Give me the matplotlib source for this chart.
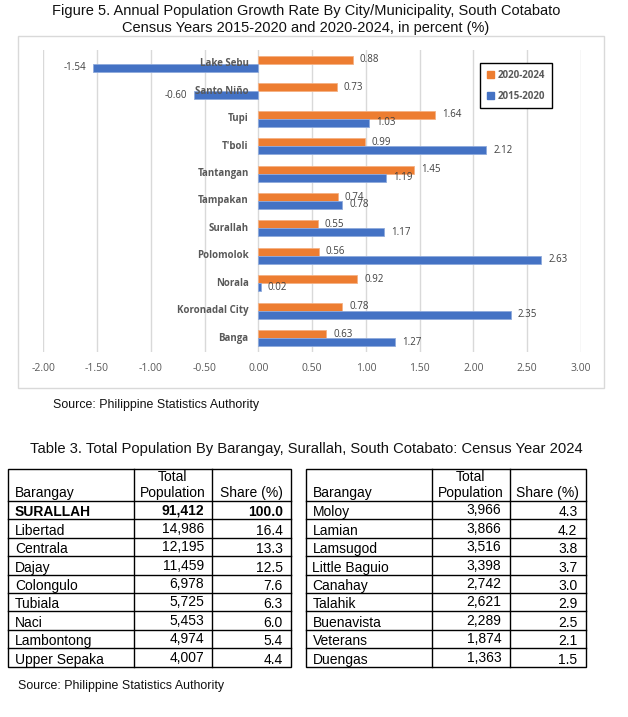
import matplotlib
matplotlib.use("Agg")
import matplotlib.pyplot as plt
from matplotlib.patches import Rectangle, Patch

plt.rcParams["font.family"] = ["Liberation Sans", "DejaVu Sans"]

# chart data (top to bottom)
cities = ["Lake Sebu", "Santo Niño", "Tupi", "T'boli", "Tantangan", "Tampakan",
          "Surallah", "Polomolok", "Norala", "Koronadal City", "Banga"]
rate_2020_2024 = [0.88, 0.73, 1.64, 0.99, 1.45, 0.74, 0.55, 0.56, 0.92, 0.78, 0.63]
rate_2015_2020 = [-1.54, -0.60, 1.03, 2.12, 1.19, 0.78, 1.17, 2.63, 0.02, 2.35, 1.27]
x_ticks = [-2.0, -1.5, -1.0, -0.5, 0.0, 0.5, 1.0, 1.5, 2.0, 2.5, 3.0]

# table data
left_names = ["SURALLAH", "Libertad", "Centrala", "Dajay", "Colongulo", "Tubiala",
              "Naci", "Lambontong", "Upper Sepaka"]
left_pop = [91412, 14986, 12195, 11459, 6978, 5725, 5453, 4974, 4007]
left_share = [100.0, 16.4, 13.3, 12.5, 7.6, 6.3, 6.0, 5.4, 4.4]
right_names = ["Moloy", "Lamian", "Lamsugod", "Little Baguio", "Canahay", "Talahik",
               "Buenavista", "Veterans", "Duengas"]
right_pop = [3966, 3866, 3516, 3398, 2742, 2621, 2289, 1874, 1363]
right_share = [4.3, 4.2, 3.8, 3.7, 3.0, 2.9, 2.5, 2.1, 1.5]

ORANGE = "#ED7D31"
BLUE = "#4472C4"
GREY_TXT = "#595959"
LBL_TXT = "#404040"
CHART_FONT = ["Open Sans", "DejaVu Sans"]

W, H = 628, 717
fig = plt.figure(figsize=(W / 100, H / 100), dpi=100)

# overlay axes in pixel coordinates for frame, titles and tables
ov = fig.add_axes([0, 0, 1, 1], zorder=0)
ov.set_xlim(0, W)
ov.set_ylim(H, 0)
ov.axis("off")

ov.add_patch(Rectangle((18, 36), 586, 352, fill=False, edgecolor="#D9D9D9", lw=1))
ov.text(306, 14.5, "Figure 5. Annual Population Growth Rate By City/Municipality, South Cotabato",
        ha="center", va="baseline", fontsize=10.5, color="#111111")
ov.text(306, 32, "Census Years 2015-2020 and 2020-2024, in percent (%)",
        ha="center", va="baseline", fontsize=10.5, color="#111111")
ov.text(53, 408, "Source: Philippine Statistics Authority", ha="left", va="baseline",
        fontsize=8.9, color="#111111")
ov.text(306, 452.5, "Table 3. Total Population By Barangay, Surallah, South Cotabato: Census Year 2024",
        ha="center", va="baseline", fontsize=10.6, color="#111111")
ov.text(18, 689, "Source: Philippine Statistics Authority", ha="left", va="baseline",
        fontsize=8.9, color="#111111")

# bar chart
ax = fig.add_axes([43.3 / W, 1 - 352 / H, (581 - 43.3) / W, 302 / H], zorder=1)
ax.patch.set_alpha(0)
ypos = list(range(len(cities)))
bh = 0.29
ax.barh([y - bh / 2 for y in ypos], rate_2020_2024, height=bh, color=ORANGE,
        edgecolor="#F4B183", lw=0.6, zorder=3)
ax.barh([y + bh / 2 for y in ypos], rate_2015_2020, height=bh, color=BLUE,
        edgecolor="#8FAADC", lw=0.6, zorder=3)
ax.set_xlim(-2, 3)
ax.set_ylim(len(cities) - 0.5, -0.5)
ax.set_xticks(x_ticks)
ax.set_xticklabels([f"{t:.2f}" for t in x_ticks], fontsize=7.5, color=GREY_TXT,
                   family=CHART_FONT)
ax.tick_params(axis="x", length=0, pad=8)
ax.set_yticks([])
ax.grid(axis="x", color="#D9D9D9", lw=1, zorder=0)
for s in ax.spines.values():
    s.set_visible(False)

for y, name in zip(ypos, cities):
    ax.annotate(name, (0, y), xytext=(-7, 0), textcoords="offset points",
                ha="right", va="center", fontsize=7, fontweight="bold",
                color=GREY_TXT, family=CHART_FONT, zorder=4)

for vals, off in ((rate_2020_2024, -bh / 2), (rate_2015_2020, bh / 2)):
    for y, v in zip(ypos, vals):
        ax.annotate(f"{v:.2f}", (v, y + off), xytext=(5 if v >= 0 else -5, 0),
                    textcoords="offset points", ha="left" if v >= 0 else "right",
                    va="center", fontsize=7, color=LBL_TXT,
                    family=CHART_FONT, zorder=4)

handles = [Patch(color=ORANGE, label="2020-2024"), Patch(color=BLUE, label="2015-2020")]
leg = fig.legend(handles=handles, loc="upper left", bbox_to_anchor=(480 / W, 1 - 63 / H),
                 frameon=True, fancybox=False, edgecolor="black", framealpha=1,
                 handlelength=0.7, handleheight=0.7, handletextpad=0.4,
                 labelspacing=1.0, borderpad=0.7, borderaxespad=0,
                 prop={"size": 7, "weight": "bold", "family": CHART_FONT})
for t in leg.get_texts():
    t.set_color(GREY_TXT)
leg.get_frame().set_linewidth(1)


def draw_table(x0, x1, x2, x3, names, pops, shares):
    top, head_h, row_h = 469, 32, 18.4
    bottom = top + head_h + row_h * len(names)
    ov.add_patch(Rectangle((x0, top), x3 - x0, bottom - top, fill=False,
                           edgecolor="black", lw=1))
    for xv in (x1, x2):
        ov.plot([xv, xv], [top, bottom], color="black", lw=1)
    for i in range(len(names)):
        yv = top + head_h + row_h * i
        ov.plot([x0, x3], [yv, yv], color="black", lw=1)
    fs = 10
    ov.text(x0 + 7, top + head_h - 4, "Barangay", ha="left", va="baseline", fontsize=fs)
    ov.text((x1 + x2) / 2, top + 12, "Total", ha="center", va="baseline", fontsize=fs)
    ov.text((x1 + x2) / 2, top + head_h - 4, "Population", ha="center", va="baseline", fontsize=fs)
    ov.text((x2 + x3) / 2, top + head_h - 4, "Share (%)", ha="center", va="baseline", fontsize=fs)
    for i, (n, p, s) in enumerate(zip(names, pops, shares)):
        yb = top + head_h + row_h * (i + 1)
        bold = "bold" if n == "SURALLAH" else "normal"
        ov.text(x0 + 7, yb - 3, n, ha="left", va="baseline", fontsize=fs, fontweight=bold)
        ov.text(x2 - 8, yb - 5, f"{p:,}", ha="right", va="baseline", fontsize=fs, fontweight=bold)
        ov.text(x3 - 8, yb - 3, f"{s:.1f}", ha="right", va="baseline", fontsize=fs, fontweight=bold)


draw_table(8, 134, 212, 291, left_names, left_pop, left_share)
draw_table(305.5, 431.5, 509.5, 585.5, right_names, right_pop, right_share)

fig.savefig("out.png", dpi=100)
